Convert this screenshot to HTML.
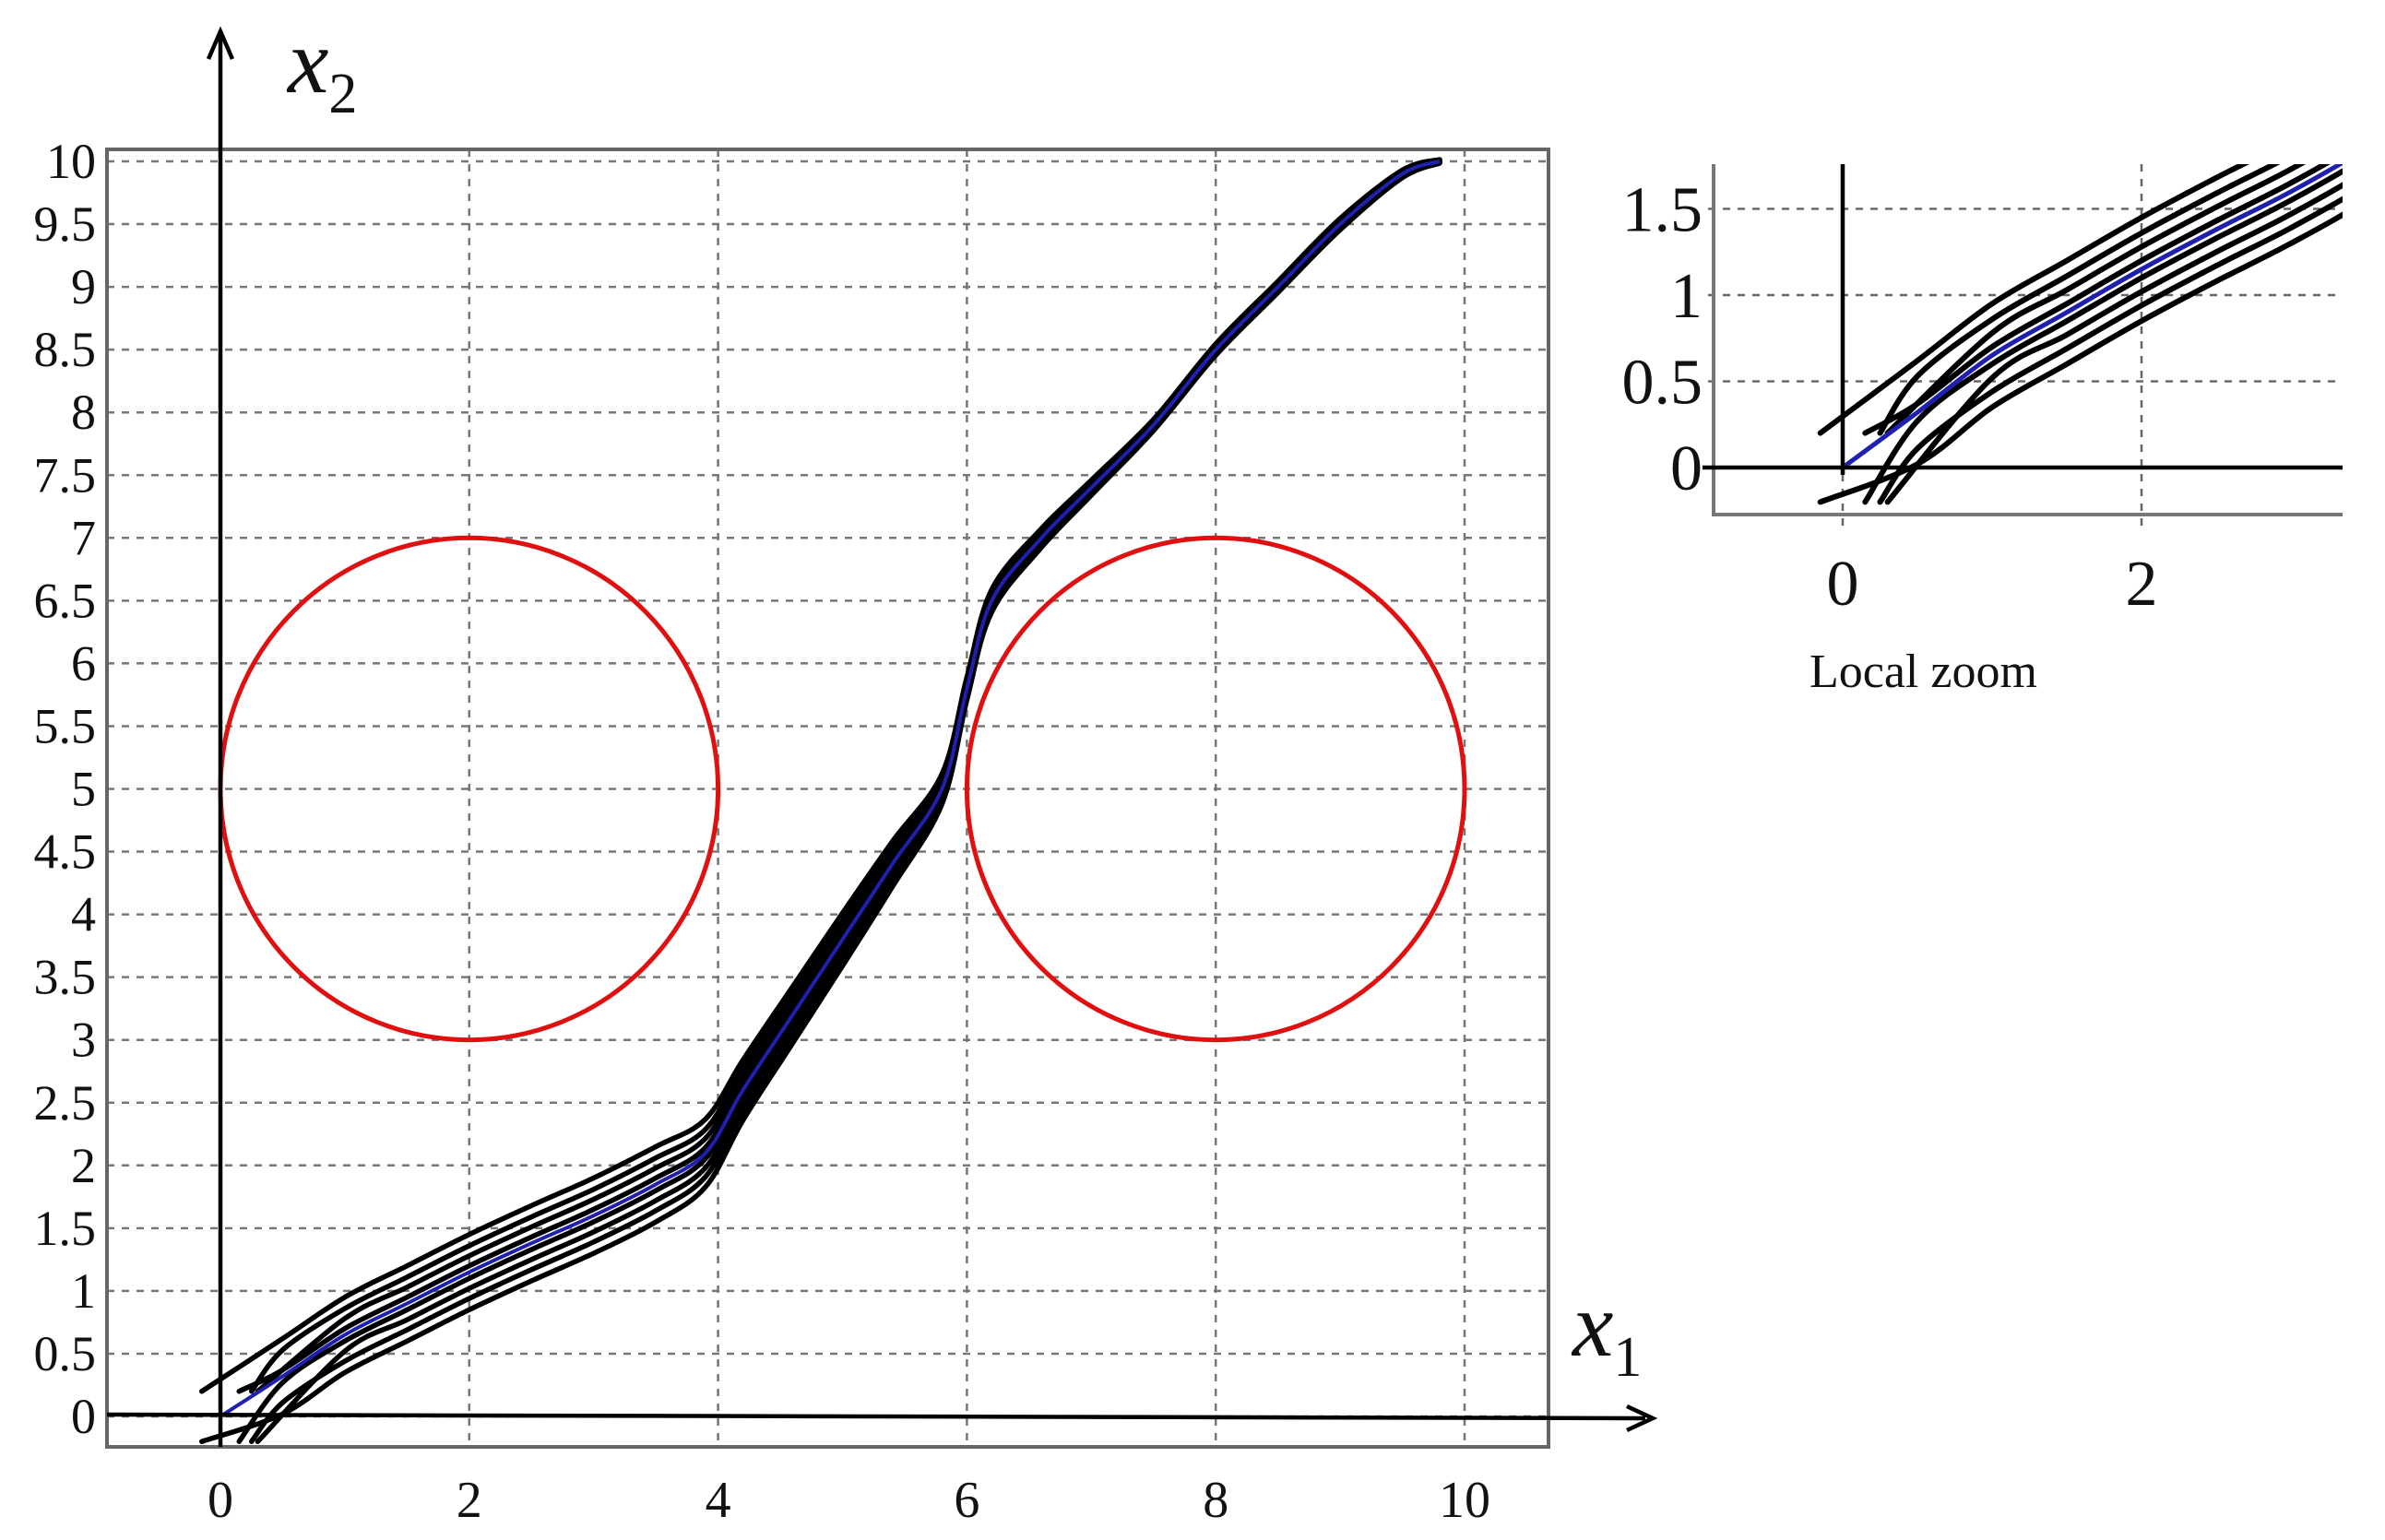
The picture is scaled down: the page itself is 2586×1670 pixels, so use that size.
<!DOCTYPE html>
<html><head><meta charset="utf-8"><style>
html,body{margin:0;padding:0;background:#fff}
svg{display:block}
text{font-family:"Liberation Serif",serif;fill:#111}
</style></head><body>
<svg id="chart" width="2586" height="1670" viewBox="0 0 2586 1670" xmlns="http://www.w3.org/2000/svg">
<defs>
<clipPath id="mainClip"><rect x="116" y="162" width="1563" height="1407"/></clipPath>
<clipPath id="insetClip"><rect x="1858" y="178" width="682" height="380"/></clipPath>
</defs>
<g id="main"></g>
<g id="inset"></g>
</svg>
<script>
const centerX=[0,0.5,1,1.5,2,2.5,3,3.5,3.9,4.2,4.6,5,5.4,5.8,6,6.2,6.6,7,7.5,8,8.5,9,9.5,9.8];
const centerY=[0,0.32,0.65,0.9,1.15,1.38,1.6,1.85,2.1,2.6,3.2,3.8,4.4,5.0,5.8,6.5,7.0,7.4,7.9,8.5,9.0,9.5,9.9,10];
const spread=[1,1,1,1,1,1,1,1,0.9,0.8,0.75,0.7,0.6,0.4,0.3,0.3,0.25,0.2,0.15,0.15,0.15,0.15,0.1,0.05];
const offsets=[0.3,0.21,0.13,0.05,-0.05,-0.13,-0.21,-0.3];
const startX=[-0.15,0.25,0.3,0.15,0.15,0.3,0.25,-0.15];
const circleCX=[2,8];
const circleCY=[5,5];
const circleR=[2,2];
const xTicks=[0,2,4,6,8,10];
const yTicks=[0,0.5,1,1.5,2,2.5,3,3.5,4,4.5,5,5.5,6,6.5,7,7.5,8,8.5,9,9.5,10];
const insetXTicks=[0,2];
const insetYTicks=[0,0.5,1,1.5];
const NS='http://www.w3.org/2000/svg';
function mk(tag,attrs,parent){const e=document.createElementNS(NS,tag);for(const k in attrs)e.setAttribute(k,attrs[k]);parent.appendChild(e);return e;}
function pathFrom(pts){let d='M'+pts[0][0]+','+pts[0][1];for(let i=0;i<pts.length-1;i++){const p0=pts[Math.max(0,i-1)],p1=pts[i],p2=pts[i+1],p3=pts[Math.min(pts.length-1,i+2)];const c1=[p1[0]+(p2[0]-p0[0])/6,p1[1]+(p2[1]-p0[1])/6],c2=[p2[0]-(p3[0]-p1[0])/6,p2[1]-(p3[1]-p1[1])/6];d+=' C'+c1[0].toFixed(1)+','+c1[1].toFixed(1)+' '+c2[0].toFixed(1)+','+c2[1].toFixed(1)+' '+p2[0].toFixed(1)+','+p2[1].toFixed(1);}return d;}
function curvePts(k,X,Y){const off=offsets[k];const pts=[];pts.push([X(startX[k]),Y(off>0?0.2:-0.2)]);for(let i=0;i<centerX.length;i++){if(centerX[i]<=startX[k]+0.2&&i<2)continue;pts.push([X(centerX[i]),Y(centerY[i]+off*spread[i])]);}return pts;}
function centerPts(X,Y){return centerX.map((x,i)=>[X(x),Y(centerY[i])]);}

// main
(function(){
const g=document.getElementById('main');
const X=v=>239+v*134.9, Y=v=>1536-v*136.1;
for(const t of xTicks){const l=mk('line',{x1:X(t),x2:X(t),y1:162,y2:1569,stroke:'#777','stroke-width':2.5,'stroke-dasharray':'8 8'},g);


const tx=mk('text',{x:X(t),y:1645,'font-size':56,'text-anchor':'middle'},g);tx.textContent=t;

}
for(const t of yTicks){const l=mk('line',{x1:116,x2:1679,y1:Y(t),y2:Y(t),stroke:'#777','stroke-width':2.5,'stroke-dasharray':'8 8'},g);


const tx=mk('text',{x:104,y:Y(t)+18,'font-size':54,'text-anchor':'end'},g);tx.textContent=t;

}
const fr=mk('rect',{x:116,y:162,width:1563,height:1407,fill:'none',stroke:'#666','stroke-width':4},g);


for(let i=0;i<circleCX.length;i++){const c=mk('ellipse',{cx:X(circleCX[i]),cy:Y(circleCY[i]),rx:circleR[i]*134.9,ry:circleR[i]*136.1,fill:'none',stroke:'#e01010','stroke-width':5},g);

}
const cg=mk('g',{'clip-path':'url(#mainClip)'},g);
for(let k=0;k<offsets.length;k++){const p=mk('path',{d:pathFrom(curvePts(k,X,Y)),fill:'none',stroke:'#000','stroke-width':5.5,'stroke-linecap':'round'},cg);

}
const b=mk('path',{d:pathFrom(centerPts(X,Y)),fill:'none',stroke:'#2020b0','stroke-width':4},cg);


const ax=mk('path',{d:'M116,1534 L1784,1538 M1764,1525 L1792,1538 L1764,1551',fill:'none',stroke:'#000','stroke-width':4.5},g);


const ay=mk('path',{d:'M239,1569 L239,36 M226,64 L239,34 L252,64',fill:'none',stroke:'#000','stroke-width':4.5},g);


const t1=mk('text',{x:312,y:100,'font-size':100,'font-style':'italic'},g);t1.innerHTML='x<tspan font-size="62" font-style="normal" dy="22">2</tspan>';


const t2=mk('text',{x:1705,y:1470,'font-size':100,'font-style':'italic'},g);t2.innerHTML='x<tspan font-size="62" font-style="normal" dy="22">1</tspan>';


})();

// inset
(function(){
const g=document.getElementById('inset');
const X=v=>1998+v*162, Y=v=>507-v*187;
for(const t of insetXTicks){const l=mk('line',{x1:X(t),x2:X(t),y1:178,y2:572,stroke:'#666','stroke-width':2.5,'stroke-dasharray':'8 8'},g);


const tx=mk('text',{x:X(t),y:656,'font-size':70,'text-anchor':'middle'},g);tx.textContent=t;

}
for(const t of insetYTicks){const l=mk('line',{x1:1852,x2:2540,y1:Y(t),y2:Y(t),stroke:'#666','stroke-width':2.5,'stroke-dasharray':'8 8'},g);


const tx=mk('text',{x:1846,y:Y(t)+24,'font-size':70,'text-anchor':'end'},g);tx.textContent=t;

}
const fr=mk('path',{d:'M1858,178 L1858,558 L2540,558',fill:'none',stroke:'#777','stroke-width':4},g);


const cg=mk('g',{'clip-path':'url(#insetClip)'},g);
for(let k=0;k<offsets.length;k++){const p=mk('path',{d:pathFrom(curvePts(k,X,Y)),fill:'none',stroke:'#000','stroke-width':6,'stroke-linecap':'round'},cg);

}
const b=mk('path',{d:pathFrom(centerPts(X,Y)),fill:'none',stroke:'#2020b0','stroke-width':5},cg);


const ax=mk('line',{x1:1846,x2:2540,y1:507,y2:507,stroke:'#000','stroke-width':4.5},g);


const ay=mk('line',{x1:1998,x2:1998,y1:178,y2:515,stroke:'#000','stroke-width':4.5},g);


const tt=mk('text',{x:1962,y:745,'font-size':52},g);tt.textContent='Local zoom';


})();
</script>
</body></html>
